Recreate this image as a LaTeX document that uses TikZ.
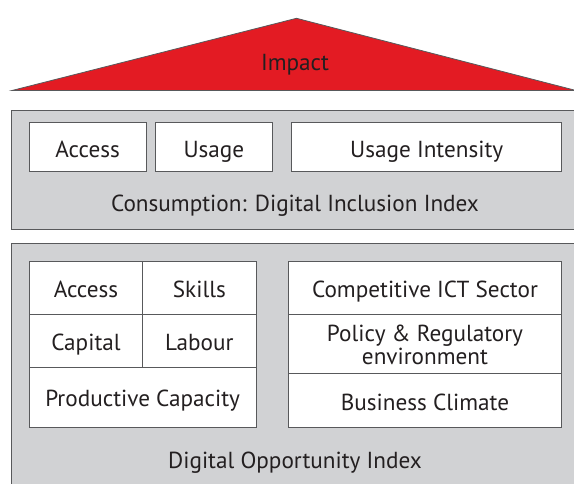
\documentclass[tikz,border=0pt]{standalone}
\usepackage{fontspec}
\setmainfont{PT Sans}
\definecolor{roofred}{HTML}{E31B23}
\definecolor{panelgray}{HTML}{D1D2D4}
\definecolor{edgegray}{HTML}{58595B}
\definecolor{inkgray}{HTML}{231F20}
\begin{document}
\begin{tikzpicture}[x=1pt,y=-1pt,
  every node/.style={text=inkgray},
  lbl/.style={font=\fontsize{23.2}{20}\selectfont, inner sep=0pt, align=center,
              text height=19.7pt, text depth=0pt},
  cell/.style={lbl, draw=edgegray, fill=white, line width=0.8pt,
               minimum width=#1, anchor=center},
  panel/.style={draw=edgegray, fill=panelgray, line width=0.8pt}]
  \useasboundingbox (0,0) rectangle (574,484);
  \clip (0,0) rectangle (574,484);

  % roof
  \draw[fill=roofred, draw=edgegray, line width=0.8pt]
    (12,90.5) -- (296.5,18.3) -- (576,90.5) -- cycle;
  \node[lbl] (impact) at (295,60.2) {Impact};

  % consumption panel
  \draw[panel] (11,110.7) rectangle (590,229);
  \node[cell=116.7pt, minimum height=49pt] (acc1) at (87.65,147.2) {Access};
  \node[cell=116.3pt, minimum height=49pt] (use1) at (213.85,147.2) {Usage};
  \node[cell=270pt,   minimum height=49pt] (ui)   at (426.7,147.2) {Usage Intensity};
  \node[lbl] (dii) at (295,201.3) {Consumption: Digital Inclusion Index};

  % opportunity panel
  \draw[panel] (11,243) rectangle (590,500);
  \node[cell=113.4pt, minimum height=52.3pt] (acc2) at (86,287.85) {Access};
  \node[cell=113.3pt, minimum height=52.3pt] (skl)  at (199.35,287.85) {Skills};
  \node[cell=113.4pt, minimum height=53pt]   (cap)  at (86,340.5) {Capital};
  \node[cell=113.3pt, minimum height=53pt]   (lab)  at (199.35,340.5) {Labour};
  \node[cell=226.7pt, minimum height=60pt]   (prod) at (142.65,397) {Productive Capacity};

  \node[cell=273.4pt, minimum height=52.3pt] (ict)  at (425,287.85) {Competitive ICT Sector};
  \node[cell=273.4pt, minimum height=59.5pt, text height=41.1pt, text depth=0pt]
    (pol) at (425,343.75) {Policy \& Regulatory\\environment};
  \node[cell=273.4pt, minimum height=53.5pt] (bus)  at (425,400.25) {Business Climate};
  \node[lbl] (doi) at (295,459) {Digital Opportunity Index};
\end{tikzpicture}
\end{document}
